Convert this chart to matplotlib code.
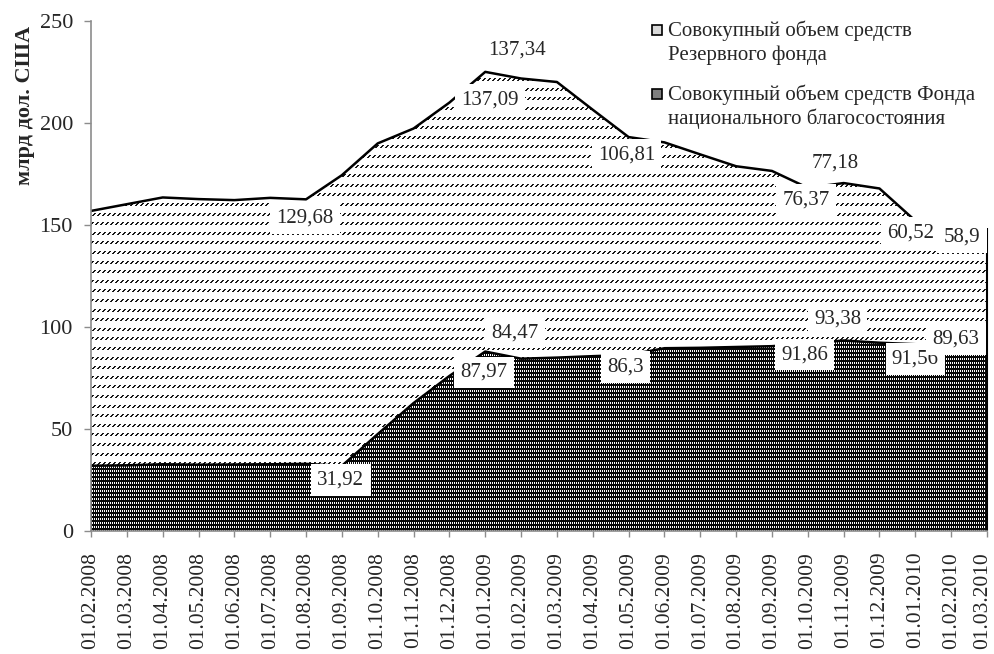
import numpy as np
import matplotlib
matplotlib.use("Agg")
import matplotlib.pyplot as plt
import matplotlib.transforms as mtransforms
from matplotlib.patches import Rectangle

plt.rcParams["font.family"] = ["Liberation Serif", "DejaVu Serif"]

# ---- data (billion USD, first day of month) ----
dates = [
    "01.02.2008", "01.03.2008", "01.04.2008", "01.05.2008", "01.06.2008",
    "01.07.2008", "01.08.2008", "01.09.2008", "01.10.2008", "01.11.2008",
    "01.12.2008", "01.01.2009", "01.02.2009", "01.03.2009", "01.04.2009",
    "01.05.2009", "01.06.2009", "01.07.2009", "01.08.2009", "01.09.2009",
    "01.10.2009", "01.11.2009", "01.12.2009", "01.01.2010", "01.02.2010",
    "01.03.2010",
]
reserve_fund = [
    124.9, 128.0, 130.8, 130.2, 129.6, 130.6, 129.68, 142.5, 142.5, 134.6,
    134.0, 137.09, 137.34, 135.1, 120.8, 106.81, 100.9, 94.8, 88.6, 85.9,
    76.37, 77.18, 75.6, 60.52, 60.0, 58.9,
]
welfare_fund = [
    32.0, 32.2, 32.7, 32.5, 32.6, 32.7, 32.9, 31.92, 47.5, 62.7,
    76.0, 87.97, 84.47, 85.0, 85.7, 86.3, 89.6, 89.8, 90.2, 90.6,
    91.86, 93.38, 92.3, 91.56, 90.7, 89.63,
]
legend_labels = [
    "Совокупный объем средств\nРезервного фонда",
    "Совокупный объем средств Фонда\nнационального благосостояния",
]
y_title = "млрд дол. США"

# points that carry a value label, with label offsets in pixels (dx, dy)
rf_label_idx = [6, 11, 12, 15, 20, 21, 23, 25]
rf_label_off = [(-1, -19), (5, -28), (-4, 28), (-2, -18), (-2, -12), (-8, 20), (-5, -12), (-25, -9)]
nwf_label_idx = [7, 11, 12, 15, 20, 21, 23, 25]
nwf_label_off = [(-1, -14), (-1, -21), (-6, 26), (-3, -12), (-3, -11), (-6, 21), (0, -15), (-31, 9)]

# ---- figure ----
W, H = 994, 654
fig = plt.figure(figsize=(W / 100, H / 100), dpi=100)
AX_L, AX_R, AX_T, AX_B = 91, 987, 21, 531
ax = fig.add_axes([AX_L / W, (H - AX_B) / H, (AX_R - AX_L) / W, (AX_B - AX_T) / H])

x = np.arange(len(dates))
nwf = np.array(welfare_fund)
total = nwf + np.array(reserve_fund)

rf_fill = ax.fill_between(x, nwf, total, facecolor="none", edgecolor="none")
nwf_fill = ax.fill_between(x, 0, nwf, facecolor="none", edgecolor="none")

# ---- printed-style fill textures ----
ph, pw = AX_B - AX_T, AX_R - AX_L
yy, xx = np.mgrid[0:ph, 0:pw]

# rows of short slanted dashes
rf_mask = np.zeros((ph, pw), dtype=bool)
rows = np.floor(np.arange(0, ph / 9.6 + 1) * 9.6).astype(int)
for k, r in enumerate(rows):
    shift = 2 * (k % 2)
    for dy, cols in ((0, (3, 4)), (1, (2, 3)), (2, (1, 2))):
        yr = r + dy
        if yr < ph:
            rf_mask[yr] = np.isin((xx[yr] + shift) % 5, cols)

# dense dark grid with small white slots
nwf_mask = ~((xx % 2 == 1) & np.isin(yy % 4, (1, 2)))


def texture(mask, ink):
    img = np.ones((ph, pw, 4))
    img[mask, :3] = ink
    return img


for mask, ink, coll in ((rf_mask, 0.1, rf_fill), (nwf_mask, 0.03, nwf_fill)):
    im = ax.imshow(texture(mask, ink), extent=(0, 1, 0, 1), transform=ax.transAxes,
                   interpolation="nearest", aspect="auto", zorder=1)
    im.set_clip_path(coll.get_paths()[0], coll.get_transform())

# ---- outlines ----
ax.plot(x, total, color="black", lw=1.8, zorder=3)
ax.plot(x, nwf, color="black", lw=1.8, zorder=3)
ax.vlines(x[-1], 0, total[-1], color="black", lw=1.5, zorder=3, clip_on=False)

ax.set_xlim(0, len(dates) - 1)
ax.set_ylim(0, 250)

# ---- axes styling ----
grey = "#8c8c8c"
text_col = "#262626"
for s in ("top", "right"):
    ax.spines[s].set_visible(False)
for s in ("left", "bottom"):
    ax.spines[s].set_color(grey)
    ax.spines[s].set_linewidth(1.2)
    ax.spines[s].set_zorder(4)

ax.set_yticks(range(0, 251, 50))
ax.set_xticks(x)
ax.set_xticklabels(dates, rotation=90)
ax.tick_params(axis="y", direction="out", length=5, width=1, color=grey,
               pad=8, labelsize=16, labelcolor=text_col)
ax.tick_params(axis="x", direction="out", length=4, width=1, color=grey,
               pad=11, labelsize=15.5, labelcolor=text_col)

# keep the last date label inside the figure edge
last = ax.get_xticklabels()[-1]
last.set_transform(last.get_transform()
                   + mtransforms.ScaledTranslation(-4 / 100, 0, fig.dpi_scale_trans))

fig.text(25 / W, 1 - 105 / H, y_title, rotation=90, ha="center", va="center",
         fontsize=16, fontweight="bold", color=text_col)

# ---- value labels ----
box = dict(boxstyle="square,pad=0.3", facecolor="white", edgecolor="none")


def fmt(v):
    return f"{v:g}".replace(".", ",")


for i, (dx, dy) in zip(rf_label_idx, rf_label_off):
    ax.annotate(fmt(reserve_fund[i]), xy=(x[i], total[i]), xytext=(dx, dy),
                textcoords="offset pixels", ha="center", va="center",
                fontsize=15, color=text_col, bbox=box, zorder=6,
                annotation_clip=False)
for i, (dx, dy) in zip(nwf_label_idx, nwf_label_off):
    ax.annotate(fmt(welfare_fund[i]), xy=(x[i], nwf[i]), xytext=(dx, dy),
                textcoords="offset pixels", ha="center", va="center",
                fontsize=15, color=text_col, bbox=box, zorder=6,
                annotation_clip=False)

# ---- legend ----
swatches = ["#d9d9d9", "#7f7f7f"]
first_baselines = [36, 100]
line_step = 24
for label, sw, b in zip(legend_labels, swatches, first_baselines):
    fig.add_artist(Rectangle((652 / W, 1 - (b - 1) / H), 10 / W, 10 / H,
                             transform=fig.transFigure, facecolor=sw,
                             edgecolor="black", lw=1.2))
    for k, line in enumerate(label.split("\n")):
        fig.text(668 / W, 1 - (b + k * line_step) / H, line, ha="left",
                 va="baseline", fontsize=15, color=text_col)

fig.savefig("out.png", dpi=100)
